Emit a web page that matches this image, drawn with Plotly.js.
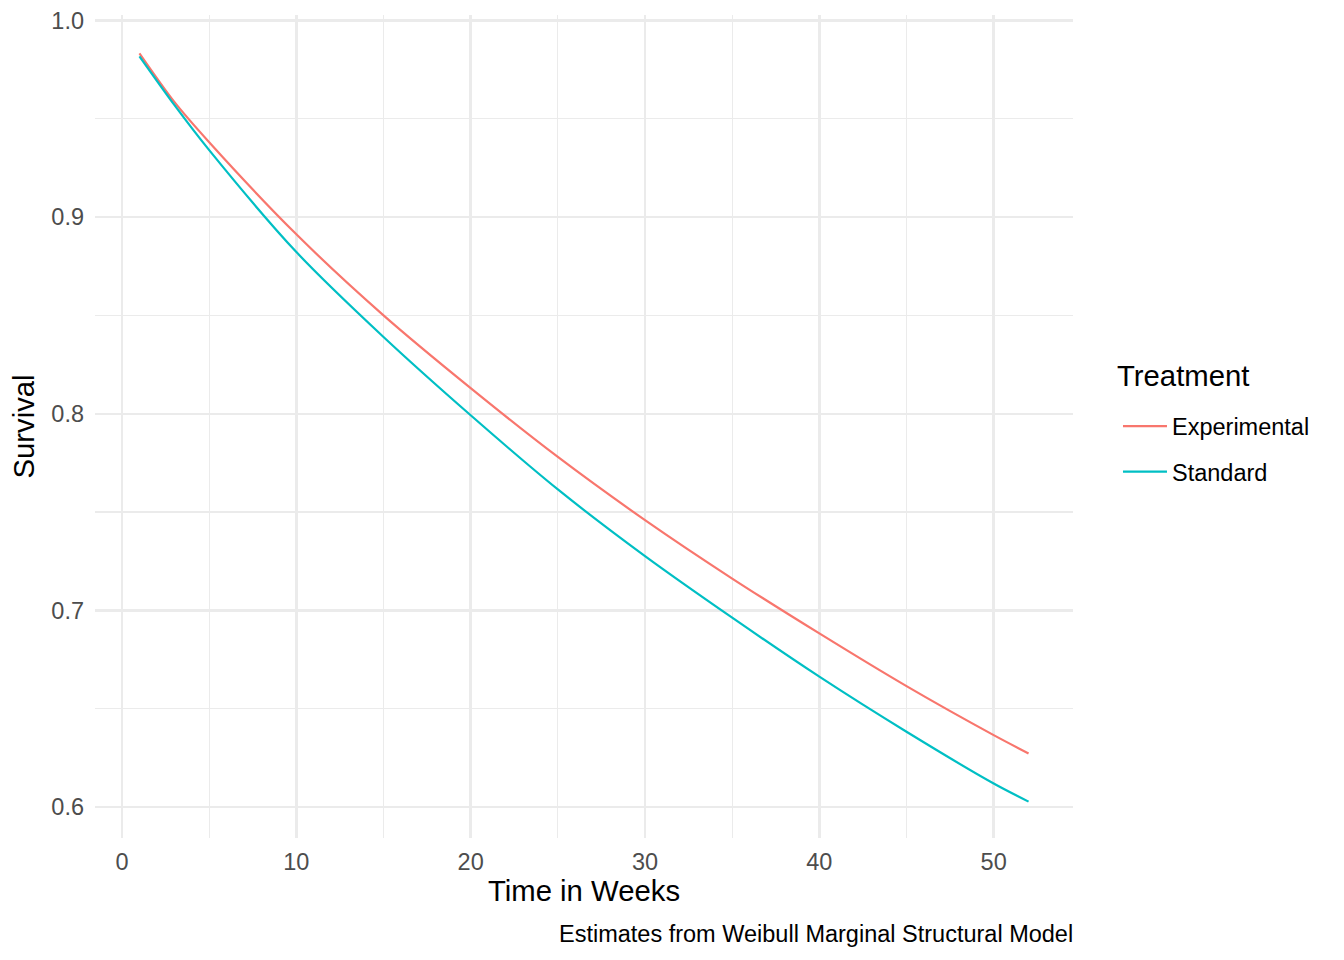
<!DOCTYPE html>
<html>
<head>
<meta charset="utf-8">
<script src="https://cdn.plot.ly/plotly-3.0.1.min.js"></script>
<style>
  html, body { margin: 0; padding: 0; background: #fff; }
  #graph { width: 1344px; height: 960px; }
</style>
</head>
<body>
<div id="graph"></div>
<script>
// survival estimates, by week
const weeks = [1, 3, 5, 10, 15, 20, 25, 30, 35, 40, 45, 50, 52];
const experimental = [0.9832, 0.9585, 0.9380, 0.8912, 0.8500, 0.8130, 0.7780, 0.7459, 0.7162, 0.6883, 0.6615, 0.6366, 0.6273];
const standard = [0.9817, 0.9570, 0.9340, 0.8822, 0.8390, 0.7992, 0.7615, 0.7276, 0.6963, 0.6663, 0.6383, 0.6120, 0.6028];

const xTicks = [0, 10, 20, 30, 40, 50];
const yTicks = [0.6, 0.7, 0.8, 0.9, 1.0];
const yTickText = ['0.6', '0.7', '0.8', '0.9', '1.0'];

const font = 'Liberation Sans, Arial, sans-serif';
const grid = '#EBEBEB';

function curve(name, y, color) {
  return {
    x: weeks,
    y: y,
    type: 'scatter',
    mode: 'lines',
    name: name,
    legendgroup: name,
    line: { color: color, width: 2.2, shape: 'spline', smoothing: 0.8 },
    hoverinfo: 'skip'
  };
}

const traces = [
  curve('Experimental', experimental, '#F8766D'),
  curve('Standard', standard, '#00BFC4')
];

const layout = {
  width: 1344,
  height: 960,
  paper_bgcolor: '#fff',
  plot_bgcolor: '#fff',
  margin: { l: 95, r: 271, t: 15, b: 122, pad: 0 },
  font: { family: font, color: '#000' },
  xaxis: {
    range: [-1.55, 54.55],
    tickvals: xTicks,
    ticks: '',
    ticklabelstandoff: 7,
    tickfont: { family: font, size: 23.5, color: '#4D4D4D' },
    showgrid: true,
    gridcolor: grid,
    gridwidth: 2.4,
    minor: { dtick: 5, tick0: 0, showgrid: true, gridcolor: grid, gridwidth: 1.2, ticks: '' },
    zeroline: false,
    showline: false,
    title: { text: 'Time in Weeks', font: { family: font, size: 29.3, color: '#000' }, standoff: 3 }
  },
  yaxis: {
    range: [0.5843, 1.0027],
    tickvals: yTicks,
    ticktext: yTickText,
    ticks: '',
    ticklabelstandoff: 10,
    tickfont: { family: font, size: 23.5, color: '#4D4D4D' },
    showgrid: true,
    gridcolor: grid,
    gridwidth: 2.4,
    minor: { dtick: 0.05, tick0: 0, showgrid: true, gridcolor: grid, gridwidth: 1.2, ticks: '' },
    zeroline: false,
    showline: false,
    title: { text: 'Survival', font: { family: font, size: 29.3, color: '#000' }, standoff: 8 }
  },
  showlegend: true,
  legend: {
    x: 1.046,
    xanchor: 'left',
    y: 0.527,
    yanchor: 'top',
    traceorder: 'grouped',
    tracegroupgap: 12,
    itemwidth: 44,
    bgcolor: 'rgba(0,0,0,0)',
    font: { family: font, size: 23.5, color: '#000' }
  },
  annotations: [
    {
      // legend title, placed apart to get ggplot's gap above the keys
      text: 'Treatment',
      xref: 'paper', yref: 'paper',
      x: 1.043, y: 0.5614,
      xanchor: 'left', yanchor: 'middle',
      showarrow: false,
      font: { family: font, size: 29.3, color: '#000' }
    },
    {
      text: 'Estimates from Weibull Marginal Structural Model',
      xref: 'paper', yref: 'paper',
      x: 1, y: -0.117, xshift: 2,
      xanchor: 'right', yanchor: 'middle',
      showarrow: false,
      font: { family: font, size: 23.5, color: '#000' }
    }
  ]
};

Plotly.newPlot('graph', traces, layout, { displayModeBar: false, staticPlot: true });
</script>
</body>
</html>
